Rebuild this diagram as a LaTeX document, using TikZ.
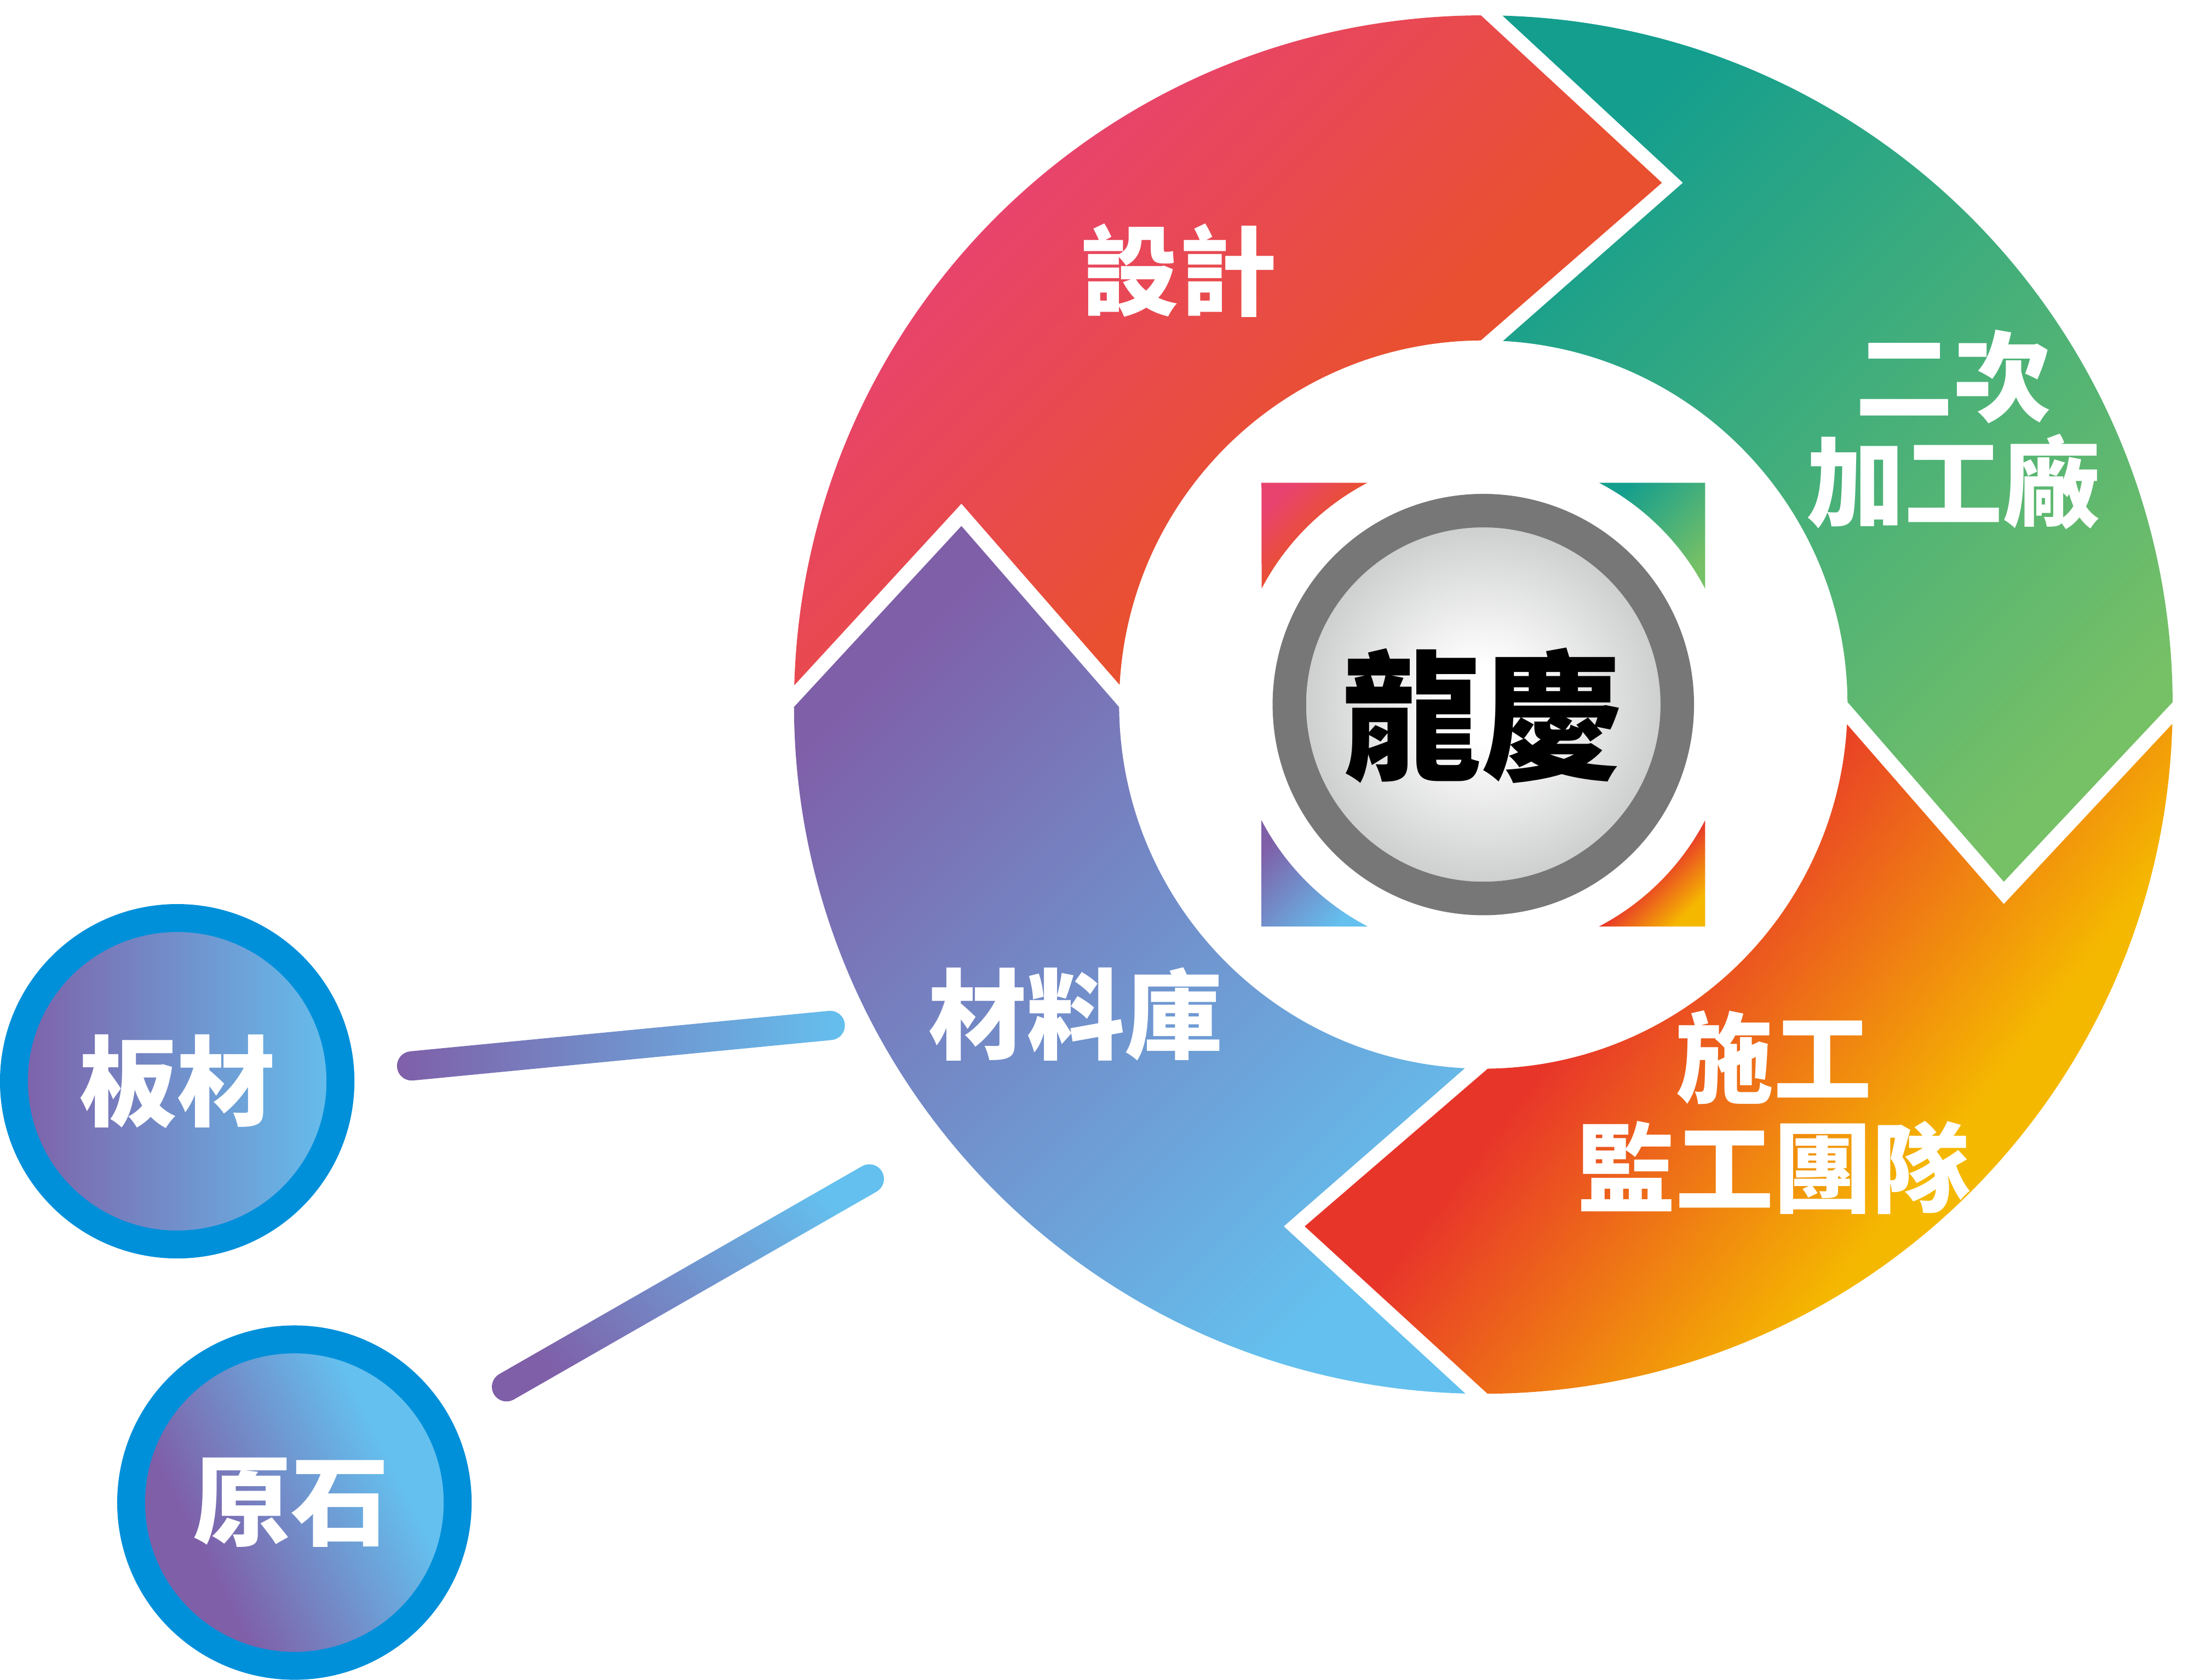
\documentclass[tikz,border=0pt]{standalone}
\usepackage{fontspec}
\usetikzlibrary{calc}
\newfontfamily\cjk{Noto Sans CJK TC}

\definecolor{pinkred}{HTML}{E8436F}
\definecolor{orangered}{HTML}{E95030}
\definecolor{teal}{HTML}{149E8E}
\definecolor{leaf}{HTML}{76C066}
\definecolor{fire}{HTML}{E8352A}
\definecolor{amber}{HTML}{F5B800}
\definecolor{violet}{HTML}{7F5FA8}
\definecolor{sky}{HTML}{64C0EE}
\definecolor{rim}{HTML}{0090DA}
\definecolor{ringgrey}{HTML}{777777}
\definecolor{pearl}{HTML}{C8CAC9}

\pgfdeclareverticalshading{designfill}{100bp}{color(0bp)=(orangered); color(42bp)=(orangered); color(68bp)=(pinkred); color(100bp)=(pinkred)}
\pgfdeclareverticalshading{crewfill}{100bp}{color(0bp)=(amber); color(36bp)=(amber); color(59.5bp)=(fire); color(100bp)=(fire)}
\pgfdeclareverticalshading{designcorner}{100bp}{color(0bp)=(orangered); color(50bp)=(orangered); color(75bp)=(pinkred); color(100bp)=(pinkred)}
\pgfdeclareverticalshading{crewcorner}{100bp}{color(0bp)=(amber); color(25bp)=(amber); color(50bp)=(fire); color(100bp)=(fire)}
\pgfdeclareverticalshading{stonefill}{100bp}{color(0bp)=(violet); color(34bp)=(violet); color(66bp)=(sky); color(100bp)=(sky)}
\pgfdeclareradialshading{hubfill}{\pgfpointorigin}{color(0bp)=(white); color(5bp)=(white); color(25bp)=(pearl); color(50bp)=(pearl)}

\begin{document}
\begin{tikzpicture}[
    x=0.2mm,y=0.2mm,
    tag/.style={font=\cjk\bfseries\fontsize{40}{43.2}\selectfont,text=white,align=center},
    disc/.style={circle,draw=rim,line width=4mm,minimum size=46.8mm,inner sep=0pt},
    cool/.style={top color=violet,bottom color=sky,shading angle=45},
    green/.style={top color=teal,bottom color=leaf,shading angle=45}
    ]

    \useasboundingbox (-1063,505) rectangle (505,-698.8);

    % ring
    \shade[shading=designfill,shading angle=45] (90.2:494) -- (128,374) -- (90.4:261)
      arc[start angle=90.4,end angle=176.9,radius=261] -- (-374,144) -- (178.4:494)
      arc[start angle=178.4,end angle=90.2,radius=494] -- cycle;
    \shade[green] (88.4:494) -- (143,374) -- (86.9:261)
      arc[start angle=86.9,end angle=0.4,radius=261] -- (373,-127) -- (0.2:494)
      arc[start angle=0.2,end angle=88.4,radius=494] -- cycle;
    \shade[shading=crewfill,shading angle=52.3] (-3.1:261) -- (373,-143) -- (-1.6:494)
      arc[start angle=-1.6,end angle=-89.65,radius=494] -- (-128,-374) -- (-89.3:261)
      arc[start angle=-89.3,end angle=-3.1,radius=261] -- cycle;
    \shade[cool] (180.2:494) -- (-374,128) -- (180.4:261)
      arc[start angle=180.4,end angle=267.1,radius=261] -- (-143,-374) -- (268.5:494)
      arc[start angle=268.5,end angle=180.2,radius=494] -- cycle;

    % corners round the hub
    \shade[shading=designcorner,shading angle=45] (-159,159) -- (-83,159)
      arc[start angle=117.6,end angle=152.4,radius=179.4] -- cycle;
    \shade[green] (83,159) -- (159,159) -- (159,83)
      arc[start angle=27.6,end angle=62.4,radius=179.4] -- cycle;
    \shade[cool] (-159,-83) -- (-159,-159) -- (-83,-159)
      arc[start angle=242.4,end angle=207.6,radius=179.4] -- cycle;
    \shade[shading=crewcorner,shading angle=45] (159,-83) -- (159,-159) -- (83,-159)
      arc[start angle=297.6,end angle=332.4,radius=179.4] -- cycle;

    \node (hub) [circle,draw=ringgrey,line width=4.8mm,minimum size=55.6mm,inner sep=0pt,
      shade,shading=hubfill] at (0,0) {};
    \node (brand) [font=\cjk\bfseries\fontsize{57}{60}\selectfont] at (-1,-8) {龍慶};

    \node (design) [tag] at (-218,311) {設計};
    \node (shop) [tag] at (337,197) {二次\\加工廠};
    \node (crew) [tag] at (208,-292.5) {施工\\[0.6mm]監工團隊};
    \node (store) [tag] at (-292,-222) {材料庫};

    % sources
    \node (plate) [disc,tag,left color=violet,right color=sky] at (-936,-270) {板材};
    \node (stone) [disc,tag,shade,shading=stonefill,shading angle=-63] at (-852,-572) {\hspace*{-1mm}原石};

    \coordinate (platefoot) at (-768,-259);
    \coordinate (platehead) at (-468,-230);
    \coordinate (stonefoot) at (-700,-489);
    \coordinate (stonehead) at (-440,-340);

    \shade[left color=violet,right color=sky] ($(platefoot)+(95.5:10.5)$) -- ($(platehead)+(95.5:10.5)$)
      arc[start angle=95.5,end angle=-84.5,radius=10.5] -- ($(platefoot)+(-84.5:10.5)$)
      arc[start angle=-84.5,end angle=-264.5,radius=10.5] -- cycle;
    \shade[top color=sky,bottom color=violet,shading angle=-45] ($(stonefoot)+(119.8:10.5)$) -- ($(stonehead)+(119.8:10.5)$)
      arc[start angle=119.8,end angle=-60.2,radius=10.5] -- ($(stonefoot)+(-60.2:10.5)$)
      arc[start angle=-60.2,end angle=-240.2,radius=10.5] -- cycle;

\end{tikzpicture}
\end{document}
